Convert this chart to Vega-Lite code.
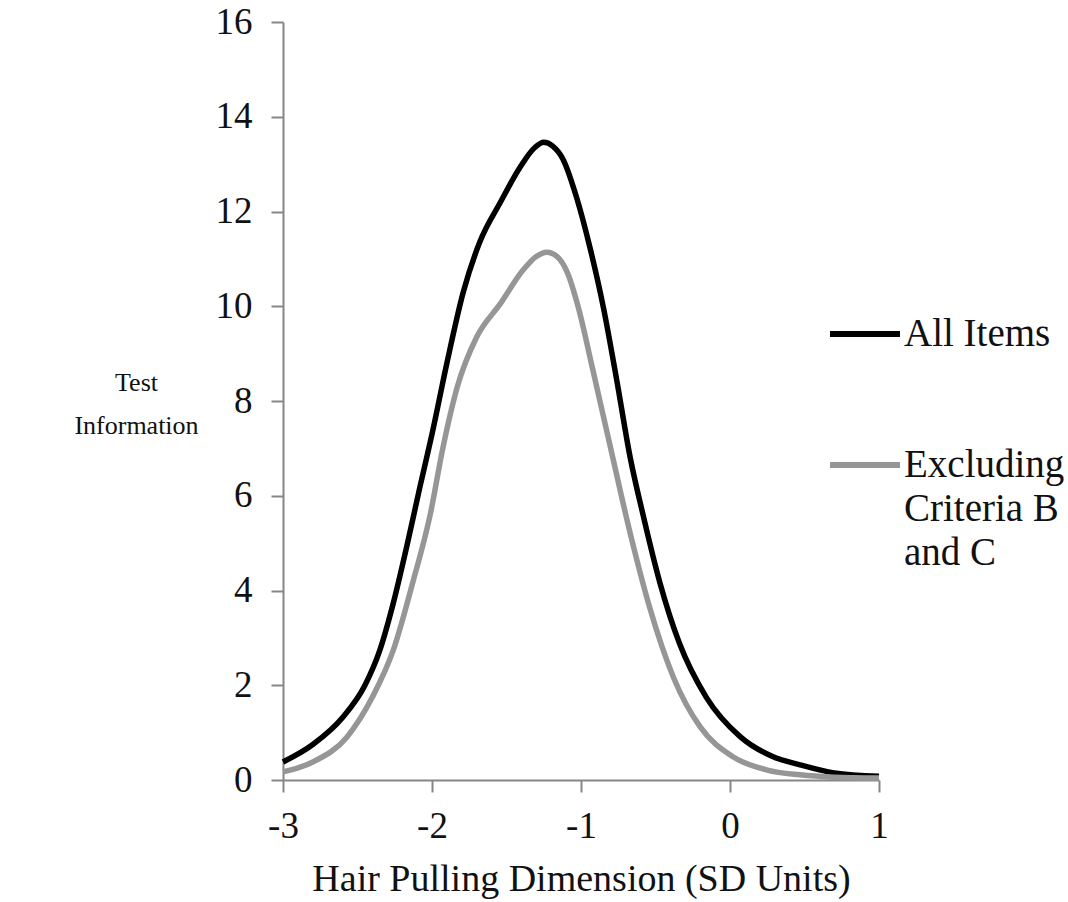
{
  "$schema": "https://vega.github.io/schema/vega-lite/v6.json",
  "autosize": "none",
  "width": 596,
  "height": 758,
  "padding": {"left": 283, "top": 22, "right": 189, "bottom": 122},
  "background": "white",
  "config": {
    "view": {"stroke": null},
    "font": "Liberation Serif",
    "axis": {"grid": false, "domainColor": "#868686", "domainWidth": 2, "tickColor": "#868686", "tickWidth": 2, "tickSize": 12, "labelColor": "#111111", "titleColor": "#111111", "labelFont": "Liberation Serif", "titleFont": "Liberation Serif", "titleFontWeight": "normal"},
    "legend": {"labelFont": "Liberation Serif"},
    "style": {"guide-label": {"lineHeight": 44}}
  },
  "data": {
    "values": [
      {"x": -3.0, "info": 0.38, "series": "All Items"},
      {"x": -2.8, "info": 0.75, "series": "All Items"},
      {"x": -2.6, "info": 1.32, "series": "All Items"},
      {"x": -2.45, "info": 2.0, "series": "All Items"},
      {"x": -2.35, "info": 2.74, "series": "All Items"},
      {"x": -2.26, "info": 3.73, "series": "All Items"},
      {"x": -2.17, "info": 4.92, "series": "All Items"},
      {"x": -2.08, "info": 6.2, "series": "All Items"},
      {"x": -2.0, "info": 7.3, "series": "All Items"},
      {"x": -1.9, "info": 8.8, "series": "All Items"},
      {"x": -1.79, "info": 10.3, "series": "All Items"},
      {"x": -1.68, "info": 11.35, "series": "All Items"},
      {"x": -1.54, "info": 12.2, "series": "All Items"},
      {"x": -1.41, "info": 12.93, "series": "All Items"},
      {"x": -1.31, "info": 13.35, "series": "All Items"},
      {"x": -1.25, "info": 13.46, "series": "All Items"},
      {"x": -1.19, "info": 13.38, "series": "All Items"},
      {"x": -1.12, "info": 13.1, "series": "All Items"},
      {"x": -1.03, "info": 12.3, "series": "All Items"},
      {"x": -0.94, "info": 11.24, "series": "All Items"},
      {"x": -0.85, "info": 9.98, "series": "All Items"},
      {"x": -0.76, "info": 8.44, "series": "All Items"},
      {"x": -0.67, "info": 6.81, "series": "All Items"},
      {"x": -0.58, "info": 5.55, "series": "All Items"},
      {"x": -0.47, "info": 4.16, "series": "All Items"},
      {"x": -0.34, "info": 2.89, "series": "All Items"},
      {"x": -0.16, "info": 1.75, "series": "All Items"},
      {"x": 0.07, "info": 0.91, "series": "All Items"},
      {"x": 0.29, "info": 0.49, "series": "All Items"},
      {"x": 0.47, "info": 0.32, "series": "All Items"},
      {"x": 0.7, "info": 0.15, "series": "All Items"},
      {"x": 1.0, "info": 0.08, "series": "All Items"},
      {"x": -3.0, "info": 0.17, "series": "Excluding Criteria B and C"},
      {"x": -2.8, "info": 0.38, "series": "Excluding Criteria B and C"},
      {"x": -2.57, "info": 0.91, "series": "Excluding Criteria B and C"},
      {"x": -2.4, "info": 1.75, "series": "Excluding Criteria B and C"},
      {"x": -2.26, "info": 2.74, "series": "Excluding Criteria B and C"},
      {"x": -2.13, "info": 4.16, "series": "Excluding Criteria B and C"},
      {"x": -2.01, "info": 5.63, "series": "Excluding Criteria B and C"},
      {"x": -1.93, "info": 6.96, "series": "Excluding Criteria B and C"},
      {"x": -1.83, "info": 8.3, "series": "Excluding Criteria B and C"},
      {"x": -1.7, "info": 9.35, "series": "Excluding Criteria B and C"},
      {"x": -1.54, "info": 10.06, "series": "Excluding Criteria B and C"},
      {"x": -1.39, "info": 10.76, "series": "Excluding Criteria B and C"},
      {"x": -1.3, "info": 11.05, "series": "Excluding Criteria B and C"},
      {"x": -1.23, "info": 11.14, "series": "Excluding Criteria B and C"},
      {"x": -1.16, "info": 11.05, "series": "Excluding Criteria B and C"},
      {"x": -1.09, "info": 10.7, "series": "Excluding Criteria B and C"},
      {"x": -1.02, "info": 10.0, "series": "Excluding Criteria B and C"},
      {"x": -0.92, "info": 8.65, "series": "Excluding Criteria B and C"},
      {"x": -0.79, "info": 6.85, "series": "Excluding Criteria B and C"},
      {"x": -0.67, "info": 5.21, "series": "Excluding Criteria B and C"},
      {"x": -0.54, "info": 3.65, "series": "Excluding Criteria B and C"},
      {"x": -0.38, "info": 2.17, "series": "Excluding Criteria B and C"},
      {"x": -0.2, "info": 1.12, "series": "Excluding Criteria B and C"},
      {"x": 0.02, "info": 0.49, "series": "Excluding Criteria B and C"},
      {"x": 0.25, "info": 0.21, "series": "Excluding Criteria B and C"},
      {"x": 0.47, "info": 0.11, "series": "Excluding Criteria B and C"},
      {"x": 0.7, "info": 0.06, "series": "Excluding Criteria B and C"},
      {"x": 1.0, "info": 0.04, "series": "Excluding Criteria B and C"}
    ]
  },
  "mark": {"type": "line", "interpolate": "monotone", "strokeWidth": 5.5},
  "encoding": {
    "x": {
      "field": "x", "type": "quantitative",
      "scale": {"domain": [-3, 1], "nice": false, "zero": false},
      "axis": {
        "values": [-3, -2, -1, 0, 1],
        "labelExpr": "datum.value < 0 ? '-' + abs(datum.value) : '' + datum.value",
        "labelFontSize": 37, "labelPadding": 16, "labelFlush": false,
        "title": "Hair Pulling Dimension (SD Units)", "titleFontSize": 38,
        "titleY": 110, "titleBaseline": "alphabetic"
      }
    },
    "y": {
      "field": "info", "type": "quantitative",
      "scale": {"domain": [0, 16], "nice": false},
      "axis": {
        "values": [0, 2, 4, 6, 8, 10, 12, 14, 16],
        "labelFontSize": 37, "labelPadding": 19,
        "title": ["Test", "Information"], "titleFontSize": 26, "titleAngle": 0,
        "titleAlign": "center", "titleBaseline": "middle", "titleLineHeight": 43,
        "titleX": -147, "titleY": 360
      }
    },
    "color": {
      "field": "series", "type": "nominal",
      "scale": {"domain": ["All Items", "Excluding Criteria B and C"], "range": ["#000000", "#969696"]},
      "legend": {
        "title": null, "orient": "none", "legendX": 544, "legendY": 274,
        "symbolType": "stroke", "symbolSize": 4900, "symbolStrokeWidth": 6,
        "labelFontSize": 39, "labelColor": "#111111", "labelOffset": 1, "labelLimit": 400,
        "rowPadding": 73,
        "labelExpr": "datum.label == 'Excluding Criteria B and C' ? ['Excluding', 'Criteria B', 'and C'] : datum.label"
      }
    }
  }
}
